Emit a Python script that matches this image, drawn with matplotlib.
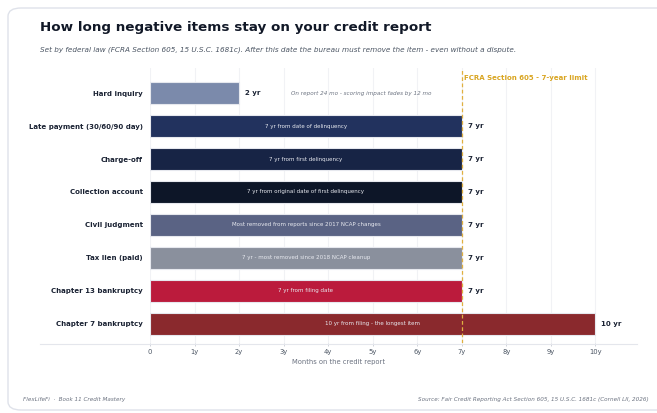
import numpy as np
import matplotlib.pyplot as plt
from matplotlib.patches import FancyBboxPatch
from matplotlib.lines import Line2D

# items, top to bottom
items = ['Hard inquiry', 'Late payment (30/60/90 day)', 'Charge-off', 'Collection account',
         'Civil judgment', 'Tax lien (paid)', 'Chapter 13 bankruptcy', 'Chapter 7 bankruptcy']
months = [24, 84, 84, 84, 84, 84, 84, 120]
value_labels = ['2 yr', '7 yr', '7 yr', '7 yr', '7 yr', '7 yr', '7 yr', '10 yr']
inner_notes = ['', '7 yr from date of delinquency', '7 yr from first delinquency',
               '7 yr from original date of first delinquency',
               'Most removed from reports since 2017 NCAP changes',
               '7 yr - most removed since 2018 NCAP cleanup',
               '7 yr from filing date', '10 yr from filing - the longest item']
colors = ['#7b8aab', '#22325e', '#172445', '#0d1628', '#5a6384', '#8a909d', '#bb1b3c', '#8a292d']
tick_months = [0, 12, 24, 36, 48, 60, 72, 84, 96, 108, 120]
tick_labels = ['0', '1y', '2y', '3y', '4y', '5y', '6y', '7y', '8y', '9y', '10y']
fcra_limit = 84
inquiry_note = 'On report 24 mo - scoring impact fades by 12 mo'

W, H = 657, 413
fig = plt.figure(figsize=(W / 100, H / 100), dpi=100)
fig.patch.set_facecolor('white')

# card outline
card = FancyBboxPatch((8 / W, 3 / H), 700 / W, 402 / H,
                      boxstyle='round,pad=0,rounding_size=0.02',
                      transform=fig.transFigure, facecolor='none',
                      edgecolor='#dfe2ea', linewidth=1.0, zorder=-1)
fig.patches.append(card)

ax_l, ax_r, ax_t, ax_b = 150, 640, 68, 343
ax = fig.add_axes([ax_l / W, 1 - ax_b / H, (ax_r - ax_l) / W, (ax_b - ax_t) / H])
ax.set_facecolor('none')

y = np.arange(len(items))
ax.barh(y, months, height=0.68, color=colors, edgecolor='#e6e8ee', linewidth=0.8, zorder=3)
ax.set_xlim(0, 132)
ax.set_ylim(len(items) - 1 + 0.58, -0.76)

for i in range(len(items)):
    ax.text(months[i] + 1.6, y[i], value_labels[i], va='center', ha='left',
            fontsize=5.0, fontweight='bold', color='#1a2233', zorder=4)
    if inner_notes[i]:
        ax.text(months[i] / 2, y[i], inner_notes[i], va='center', ha='center',
                fontsize=3.95, color='#e8eaf0', zorder=4)
ax.text(38, 0, inquiry_note, va='center', ha='left', fontsize=4.1,
        style='italic', color='#6b7280', zorder=4)

# 7-year legal limit
ax.axvline(fcra_limit, color='#e0b040', linestyle=(0, (3, 2)), linewidth=0.9, zorder=5)
ax.text(fcra_limit + 0.6, -0.45, 'FCRA Section 605 - 7-year limit', ha='left', va='center',
        fontsize=5.0, fontweight='bold', color='#d9a521', zorder=5)

ax.set_xticks(tick_months)
ax.set_xticklabels(tick_labels, fontsize=4.9, color='#4b5563')
ax.tick_params(axis='x', length=2.5, width=0.6, color='#c8ccd4', pad=2)
ax.grid(axis='x', color='#f1f2f5', linewidth=0.8, zorder=0)
ax.set_axisbelow(True)
ax.set_yticks(y)
ax.set_yticklabels(items, fontsize=5.0, fontweight='bold', color='#1a2233')
ax.tick_params(axis='y', length=0, pad=5)
for s in ax.spines.values():
    s.set_visible(False)

# baseline across the plot width
fig.lines.append(Line2D([40 / W, 637 / W], [1 - 343.5 / H] * 2, transform=fig.transFigure,
                        color='#e4e6ec', linewidth=0.8))

fig.text(339 / W, 1 - 362 / H, 'Months on the credit report', fontsize=4.9,
         color='#6b7280', va='center', ha='center')
fig.text(40 / W, 1 - 28 / H, 'How long negative items stay on your credit report',
         fontsize=9.7, fontweight='bold', color='#111827', va='center', ha='left')
fig.text(40 / W, 1 - 50 / H,
         'Set by federal law (FCRA Section 605, 15 U.S.C. 1681c). After this date the bureau '
         'must remove the item - even without a dispute.',
         fontsize=5.22, style='italic', color='#4b5563', va='center', ha='left')
fig.text(23 / W, 1 - 399 / H, 'FlexLifeFi  ·  Book 11 Credit Mastery', fontsize=4.1,
         style='italic', color='#6b7280', va='center', ha='left')
fig.text(649 / W, 1 - 399 / H,
         'Source: Fair Credit Reporting Act Section 605, 15 U.S.C. 1681c (Cornell LII, 2026)',
         fontsize=4.05, style='italic', color='#6b7280', va='center', ha='right')

fig.savefig('out.png', dpi=100, facecolor='white')
